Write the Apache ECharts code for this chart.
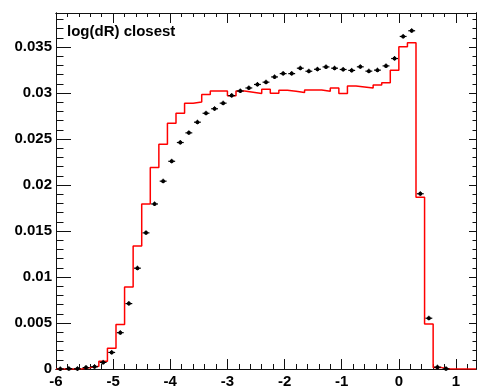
<!DOCTYPE html>
<html><head><meta charset="utf-8">
<script src="https://cdn.jsdelivr.net/npm/echarts@6/dist/echarts.min.js"></script>
<style>html,body{margin:0;padding:0;background:#fff}#c{width:477px;height:389px}</style>
</head><body><div id="c"></div>
<script>
const chartTitle = 'log(dR) closest';
const binLow = -6;
const binWidth = 0.15;
// red histogram, 49 bins of width 0.15 starting at -6
const refValues = [0, 0, 0, 0.00015, 0.0003, 0.00083, 0.00226, 0.00485, 0.00891, 0.01336,
  0.01794, 0.0219, 0.02444, 0.02671, 0.02779, 0.0289, 0.02902, 0.02985, 0.03023, 0.03023,
  0.0297, 0.03023, 0.03009, 0.02994, 0.0304, 0.02998, 0.0303, 0.0302, 0.03006, 0.03033,
  0.03033, 0.0302, 0.03055, 0.02994, 0.03077, 0.03066, 0.03055, 0.03087, 0.03112, 0.03249,
  0.03504, 0.03547, 0.01866, 0.0049, 0.00015, 0, 0, 0, 0];
// black points (bin centres)
const dataValues = [0.00001, 0.00004, 0.00002, 0.00015, 0.00025, 0.00072, 0.0018, 0.00395, 0.00711, 0.01096,
  0.0148, 0.01794, 0.02042, 0.02258, 0.02462, 0.02567, 0.02683, 0.0278, 0.02829, 0.0289,
  0.02972, 0.03022, 0.03055, 0.03093, 0.03118, 0.03175, 0.03211, 0.03211, 0.0327, 0.03237,
  0.03258, 0.03284, 0.0327, 0.03256, 0.03246, 0.03285, 0.03238, 0.03249, 0.03295, 0.03375,
  0.03615, 0.03677, 0.01905, 0.00552, 0.0002, 0.00002, null, null, null];
const xTickLabels = ['-6', '-5', '-4', '-3', '-2', '-1', '0', '1'];
const yTickLabels = ['0', '0.005', '0.01', '0.015', '0.02', '0.025', '0.03', '0.035'];

const xMin = -6, xMax = 1.35, xMajor = 1, xMinor = 0.2;
const yMin = 0, yMax = 0.0387, yMajor = 0.005, yMinor = 0.001;

const stepData = refValues.map((v, k) => [binLow + binWidth * k, v]);
stepData.push([binLow + binWidth * refValues.length, refValues[refValues.length - 1]]);
const pointData = [];
dataValues.forEach((v, k) => { if (v !== null) pointData.push([binLow + binWidth * (k + 0.5), v]); });

const lineCol = '#111';
const font = { fontFamily: 'Liberation Sans', fontWeight: 'bold', fontSize: 15, color: '#000' };

function xLabel(v) {
  const i = Math.round((v - xMin) / xMajor);
  return (Math.abs(v - (xMin + i * xMajor)) < 1e-9 && i < xTickLabels.length) ? xTickLabels[i] : '';
}
function yLabel(v) {
  const i = Math.round((v - yMin) / yMajor);
  return (Math.abs(v - (yMin + i * yMajor)) < 1e-9 && i < yTickLabels.length) ? yTickLabels[i] : '';
}

function mkX(pos, interval, len, showLabel) {
  return {
    type: 'value', min: xMin, max: xMax, interval: interval, position: pos,
    axisLine: { show: true, onZero: false, lineStyle: { color: lineCol, width: 1 } },
    axisTick: { show: true, inside: true, length: len, lineStyle: { color: lineCol, width: 1 } },
    splitLine: { show: false },
    axisLabel: showLabel ? Object.assign({ show: true, margin: 5, showMaxLabel: false, formatter: xLabel }, font) : { show: false }
  };
}
function mkY(pos, interval, len, showLabel) {
  return {
    type: 'value', min: yMin, max: yMax, interval: interval, position: pos,
    axisLine: { show: true, onZero: false, lineStyle: { color: lineCol, width: 1 } },
    axisTick: { show: true, inside: true, length: len, lineStyle: { color: lineCol, width: 1 } },
    splitLine: { show: false },
    axisLabel: showLabel ? Object.assign({ show: true, margin: 4, showMaxLabel: false, formatter: yLabel }, font) : { show: false }
  };
}

const chart = echarts.init(document.getElementById('c'), null, { renderer: 'canvas' });
chart.setOption({
  animation: false,
  backgroundColor: '#fff',
  title: { text: chartTitle, left: 62, top: 19, textStyle: { fontFamily: 'Liberation Sans', fontWeight: 'bold', fontSize: 15, color: '#000' } },
  grid: { left: 56, right: 1, top: 13, bottom: 16 },
  xAxis: [mkX('bottom', xMajor, 10, true), mkX('bottom', xMinor, 5, false), mkX('top', xMajor, 10, false), mkX('top', xMinor, 4, false)],
  yAxis: [mkY('left', yMajor, 15, true), mkY('left', yMinor, 7.5, false), mkY('right', yMajor, 7, false), mkY('right', yMinor, 3.5, false)],
  series: [
    {
      type: 'line', xAxisIndex: 0, yAxisIndex: 0, step: 'end', data: stepData, symbol: 'none',
      lineStyle: { color: '#ff0000', width: 1.5 }, z: 2
    },
    {
      type: 'custom', xAxisIndex: 0, yAxisIndex: 0, data: pointData, z: 3, clip: false,
      renderItem: function (params, api) {
        const x = api.value(0), y = api.value(1);
        const c = api.coord([x, y]);
        const l = api.coord([x - binWidth * 0.4, y]);
        const r = api.coord([x + binWidth * 0.4, y]);
        return {
          type: 'group', children: [
            { type: 'line', shape: { x1: l[0], y1: c[1], x2: r[0], y2: c[1] }, style: { stroke: '#000', lineWidth: 1.2 } },
            { type: 'line', shape: { x1: c[0], y1: c[1] - 2.5, x2: c[0], y2: c[1] + 2 }, style: { stroke: '#000', lineWidth: 1 } },
            { type: 'circle', shape: { cx: c[0], cy: c[1], r: 2 }, style: { fill: '#000' } }
          ]
        };
      }
    }
  ]
});
</script></body></html>
